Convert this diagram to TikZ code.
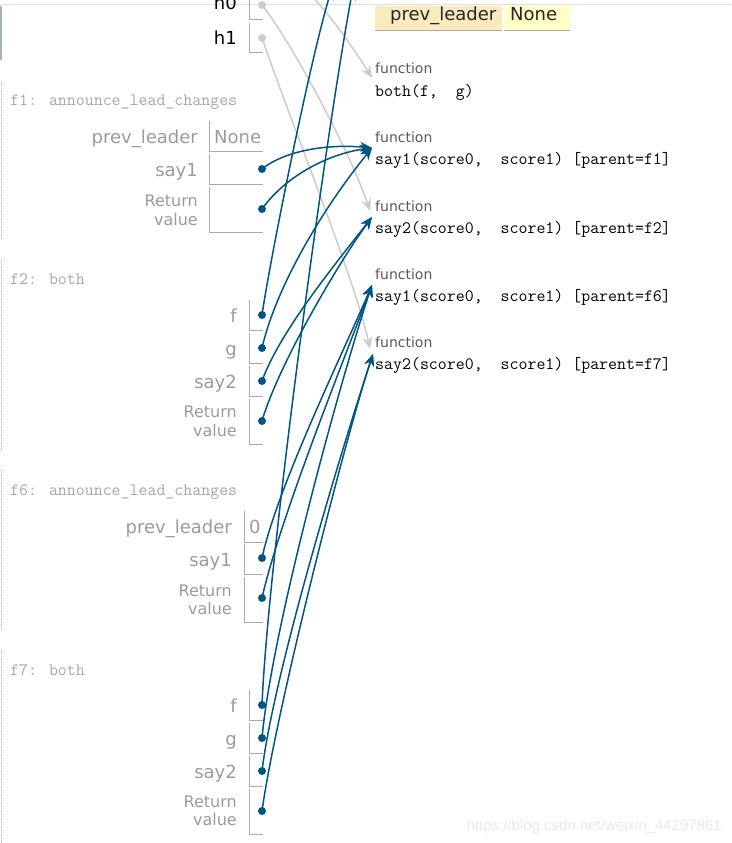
\documentclass[tikz,border=0pt]{standalone}
\usepackage{fontspec}
\setmainfont{DejaVu Sans}
\newfontfamily\markfont{Liberation Sans}
\usetikzlibrary{arrows.meta}
\definecolor{ptrblue}{HTML}{005583}
\definecolor{ptrgray}{HTML}{CCCCCC}
\definecolor{varfg}{HTML}{9B9B9B}
\definecolor{hdrfg}{HTML}{A6A6A6}
\definecolor{rulegray}{HTML}{AAAAAA}
\definecolor{keybg}{HTML}{FAEBBF}
\definecolor{valbg}{HTML}{FFFFC6}
\definecolor{framerule}{HTML}{A6B3B6}
\tikzset{
  varname/.style={anchor=base east,inner sep=0pt,text=varfg,
    font=\fontsize{18}{21}\selectfont},
  gvarname/.style={varname,text=black},
  retname/.style={anchor=east,inner sep=0pt,text=varfg,align=right,
    font=\fontsize{16}{18.5}\selectfont},
  valtext/.style={anchor=base west,inner sep=0pt,text=varfg,
    font=\fontsize{18}{21}\selectfont},
  keytext/.style={valtext,text=black!85},
  framehdr/.style={anchor=base west,inner sep=0pt,text=hdrfg,
    font=\ttfamily\fontsize{17.4}{20}\selectfont},
  fnlabel/.style={anchor=base west,inner sep=0pt,text=black!65,
    font=\fontsize{14}{17}\selectfont},
  fncode/.style={anchor=base west,inner sep=0pt,text=black,
    font=\ttfamily\fontsize{17.4}{20}\selectfont},
  ptrdot/.style={circle,fill=ptrblue,inner sep=0pt,minimum size=8pt},
  olddot/.style={ptrdot,fill=ptrgray},
  ptredge/.style={-{Stealth[length=12pt,width=10pt,inset=4pt]},
    line width=1.5pt,draw=ptrblue},
  oldedge/.style={ptredge,draw=ptrgray},
  cellline/.style={draw=rulegray,line width=1pt},
  framedots/.style={draw=black!30,line width=1pt,dash pattern=on 1pt off 1pt},
  wmark/.style={anchor=base east,inner sep=0pt,text=black!9,
    font=\markfont\fontsize{15}{18}\selectfont},
}

\begin{document}
\begin{tikzpicture}[x=1pt,y=-1pt]
  \useasboundingbox (0,0) rectangle (731,843);
  \clip (0,0) rectangle (731,843);

  % global frame, scrolled: only its tail shows
  \draw[draw=black!13,line width=1pt] (0,5) -- (731,5);
  \draw[draw=framerule,line width=1.2pt] (1,6) -- (1,60);
  \draw[cellline] (249,-10) |- (263,20);
  \draw[cellline] (249,23) |- (263,53);
  \node[gvarname] (h0) at (237,10) {h0};
  \node[gvarname] (h1) at (237,45) {h1};
  \node[olddot] (h0p) at (262,5) {};
  \node[olddot] (h1p) at (262,38) {};

  % object cut off at the top
  \fill[keybg] (375,6) rectangle (502,31);
  \fill[valbg] (504,6) rectangle (570,31);
  \draw[cellline] (375,31) -- (502,31) (504,31) -- (570,31);
  \node[keytext] (objkey) at (390,21) {prev\_leader};
  \node[keytext] (objval) at (510,21) {None};

  % function objects
  \node[fnlabel] (fnboth) at (375,74) {function};
  \node[fncode] (cdboth) at (375,96) {both(f,~~g)};
  \node[fnlabel] (fns1f1) at (375,142) {function};
  \node[fncode] (cds1f1) at (375,164) {say1(score0,~~score1) [parent=f1]};
  \node[fnlabel] (fns2f2) at (375,211) {function};
  \node[fncode] (cds2f2) at (375,233) {say2(score0,~~score1) [parent=f2]};
  \node[fnlabel] (fns1f6) at (375,279) {function};
  \node[fncode] (cds1f6) at (375,301) {say1(score0,~~score1) [parent=f6]};
  \node[fnlabel] (fns2f7) at (375,347) {function};
  \node[fncode] (cds2f7) at (375,369) {say2(score0,~~score1) [parent=f7]};

  % f1
  \draw[framedots] (1,82) -- (1,240);
  \node[framehdr] (f1hdr) at (10,105) {f1: announce\_lead\_changes};
  \draw[cellline] (209,121) |- (263,151);
  \draw[cellline] (209,154) |- (263,184);
  \draw[cellline] (209,187) |- (263,232);
  \node[varname] (f1prev) at (198,143) {prev\_leader};
  \node[valtext] (f1none) at (214,143) {None};
  \node[varname] (f1say1) at (198,176) {say1};
  \node[retname] (f1ret) at (198,210.5) {Return\\value};
  \node[ptrdot] (f1say1p) at (262,169) {};
  \node[ptrdot] (f1retp) at (262,209) {};

  % f2
  \draw[framedots] (1,260) -- (1,452);
  \node[framehdr] (f2hdr) at (10,284) {f2: both};
  \draw[cellline] (249,300) |- (263,330);
  \draw[cellline] (249,333) |- (263,363);
  \draw[cellline] (249,366) |- (263,396);
  \draw[cellline] (249,399) |- (263,444);
  \node[varname] (f2f) at (237,322) {f};
  \node[varname] (f2g) at (237,355) {g};
  \node[varname] (f2say2) at (237,388) {say2};
  \node[retname] (f2ret) at (237,421.5) {Return\\value};
  \node[ptrdot] (f2fp) at (262,315) {};
  \node[ptrdot] (f2gp) at (262,348) {};
  \node[ptrdot] (f2say2p) at (262,381) {};
  \node[ptrdot] (f2retp) at (262,421) {};

  % f6
  \draw[framedots] (1,470) -- (1,630);
  \node[framehdr] (f6hdr) at (10,495) {f6: announce\_lead\_changes};
  \draw[cellline] (244,511) |- (263,542);
  \draw[cellline] (244,544) |- (263,574);
  \draw[cellline] (244,577) |- (263,622);
  \node[varname] (f6prev) at (232,533) {prev\_leader};
  \node[valtext] (f6zero) at (249,533) {0};
  \node[varname] (f6say1) at (232,566) {say1};
  \node[retname] (f6ret) at (232,600) {Return\\value};
  \node[ptrdot] (f6say1p) at (262,558) {};
  \node[ptrdot] (f6retp) at (262,598) {};

  % f7
  \draw[framedots] (1,650) -- (1,843);
  \node[framehdr] (f7hdr) at (10,675) {f7: both};
  \draw[cellline] (249,690) |- (263,720);
  \draw[cellline] (249,723) |- (263,753);
  \draw[cellline] (249,756) |- (263,786);
  \draw[cellline] (249,789) |- (263,834);
  \node[varname] (f7f) at (237,712) {f};
  \node[varname] (f7g) at (237,745) {g};
  \node[varname] (f7say2) at (237,778) {say2};
  \node[retname] (f7ret) at (237,811) {Return\\value};
  \node[ptrdot] (f7fp) at (262,705) {};
  \node[ptrdot] (f7gp) at (262,738) {};
  \node[ptrdot] (f7say2p) at (262,771) {};
  \node[ptrdot] (f7retp) at (262,811) {};

  % where the pointers land
  \coordinate (gboth) at (285,-30);
  \coordinate (f2ftop) at (332,-12);
  \coordinate (f7ftop) at (353,-12);
  \coordinate (inboth) at (372,78);
  \coordinate (ins1f1) at (372,148);
  \coordinate (ins2f2) at (372,217);
  \coordinate (ins2f2g) at (370,211);
  \coordinate (ins1f6) at (372,285);
  \coordinate (ins2f7) at (373,354);
  \coordinate (ins2f7g) at (370,349);

  % greyed-out global pointers
  \draw[oldedge] (gboth) .. controls +(35,30) and +(-25,-40) .. (inboth);
  \draw[oldedge] (h0p.center) .. controls +(28,35) and +(-21,-62) .. (ins2f2g);
  \draw[oldedge] (h1p.center) .. controls +(28,82) and +(-15,-70) .. (ins2f7g);

  % frame pointers
  \draw[ptredge] (f1say1p.center) .. controls +(25,-20) and +(-40,-4) .. (ins1f1);
  \draw[ptredge] (f1retp.center) .. controls +(25,-35) and +(-40,5) .. (ins1f1);
  \draw[ptredge] (f2fp.center) .. controls +(8,-55) and +(-22,72) .. (f2ftop);
  \draw[ptredge] (f2gp.center) .. controls +(15,-65) and +(-45,55) .. (ins1f1);
  \draw[ptredge] (f2say2p.center) .. controls +(18,-50) and +(-35,45) .. (ins2f2);
  \draw[ptredge] (f2retp.center) .. controls +(16,-55) and +(-35,48) .. (ins2f2);
  \draw[ptredge] (f6say1p.center) .. controls +(15,-70) and +(-30,70) .. (ins1f6);
  \draw[ptredge] (f6retp.center) .. controls +(18,-80) and +(-28,75) .. (ins1f6);
  \draw[ptredge] (f7fp.center) .. controls +(6,-145) and +(-27,145) .. (f7ftop);
  \draw[ptredge] (f7gp.center) .. controls +(10,-110) and +(-30,90) .. (ins1f6);
  \draw[ptredge] (f7say2p.center) .. controls +(12,-100) and +(-28,85) .. (ins2f7);
  \draw[ptredge] (f7retp.center) .. controls +(14,-100) and +(-28,85) .. (ins2f7);

  \node[wmark] (mark) at (722,830) {https://blog.csdn.net/weixin\_44297861};
\end{tikzpicture}
\end{document}
